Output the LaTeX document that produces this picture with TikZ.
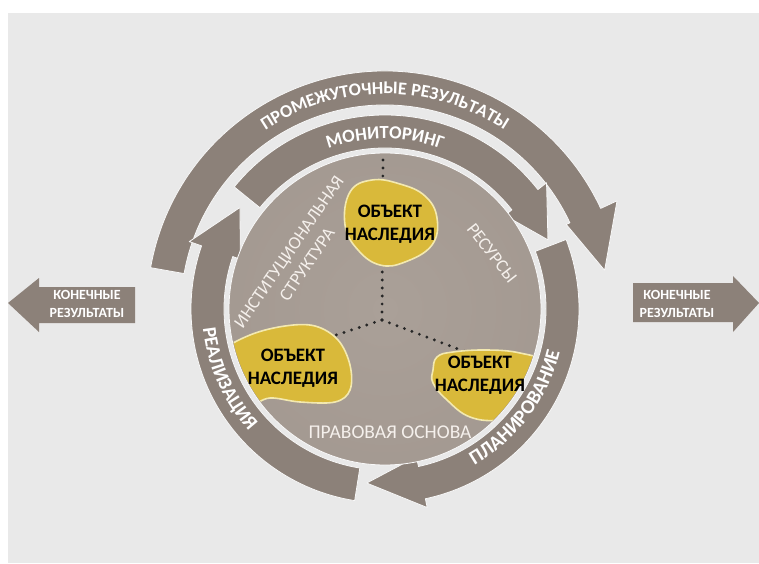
\documentclass[tikz,border=0pt]{standalone}
\usepackage{fontspec}
\setmainfont{Carlito}
\usetikzlibrary{decorations.text}
\definecolor{bg}{HTML}{E9E9E9}
\definecolor{arr}{HTML}{8C8179}
\definecolor{discin}{HTML}{AAA098}
\definecolor{discout}{HTML}{988D85}
\definecolor{blob}{HTML}{D9B93A}
\definecolor{blobedge}{HTML}{F3E9B0}
\definecolor{soft}{HTML}{F5F0EC}
\pgfdeclareradialshading{discshade}{\pgfpoint{0bp}{0bp}}{color(0bp)=(discin); color(30bp)=(discin!60!discout); color(50bp)=(discout)}
\begin{document}
\begin{tikzpicture}[x=1pt,y=1pt,
  arrowband/.style={fill=arr, draw=white!70!bg, line width=0.8pt, line join=round},
  blobshape/.style={fill=blob, draw=blobedge, line width=1.6pt},
  blobtext/.style={font=\fontsize{19}{23}\selectfont\bfseries, text=black, align=center, inner sep=0pt},
  disctext/.style={font=\fontsize{18}{22}\selectfont, text=soft, align=center, inner sep=0pt},
  sidetext/.style={font=\fontsize{14}{18}\selectfont\bfseries, text=white, align=center, inner sep=0pt},
  dotline/.style={line width=3.2pt, line cap=round, dash pattern=on 0pt off 8pt, draw=black!85}]
\useasboundingbox (0,0) rectangle (759,563);
\fill[white] (0,0) rectangle (759,563);
\fill[bg] (8,0) rectangle (759,550);

% side arrows
\fill[arr] (8,260) -- (39,285) -- (39,276) -- (135,276) -- (135,240) -- (39,240) -- (39,231) -- cycle;
\node[sidetext] (leftres) at (87,259) {КОНЕЧНЫЕ\\РЕЗУЛЬТАТЫ};
\fill[arr] (633,280) -- (733,280) -- (733,287) -- (759,260) -- (733,231) -- (733,241) -- (633,241) -- cycle;
\node[sidetext] (rightres) at (677,259) {КОНЕЧНЫЕ\\РЕЗУЛЬТАТЫ};

\coordinate (O) at (385,254);
\begin{scope}[shift={(O)}]
  % outer arrow
  \path[arrowband] (170:238pt) arc[start angle=170,end angle=25,radius=238pt]
     -- (25:256pt) -- (10:223pt) -- (25:200pt) -- (25:204pt)
     arc[start angle=25,end angle=170,radius=204pt] -- cycle;
  % monitoring
  \path[arrowband] (141:194pt) arc[start angle=141,end angle=38,radius=194pt]
     -- (38:205pt) -- (23:177pt) -- (38:152pt) -- (38:161pt)
     arc[start angle=38,end angle=141,radius=161pt] -- cycle;
  % planning
  \path[arrowband] (21:194pt) arc[start angle=21,end angle=-78,radius=194pt]
     -- (-78:203pt) -- (-96:175pt) -- (-78:151pt) -- (-78:161pt)
     arc[start angle=-78,end angle=21,radius=161pt] -- cycle;
  % realization
  \path[arrowband] (-99:194pt) arc[start angle=-99,end angle=-199,radius=194pt]
     -- (-199:207pt) -- (-215:177pt) -- (-199:153pt) -- (-199:161pt)
     arc[start angle=-199,end angle=-99,radius=161pt] -- cycle;
  % disc
  \shade[shading=discshade] (0,0) circle[radius=156pt];
  \draw[white!75!bg, line width=0.8pt] (0,0) circle[radius=156pt];
\end{scope}

% dotted connectors
\coordinate (J) at (382,243);
\coordinate (topend) at (383,405);
\coordinate (leftend) at (330,226);
\coordinate (rightend) at (466,211);
\draw[dotline] (J) -- (topend);
\draw[dotline] (J) -- (leftend);
\draw[dotline] (J) -- (rightend);

% heritage blobs (clipped to the disc)
\begin{scope}
  \clip (O) circle[radius=155pt];
  \draw[blobshape] plot[smooth cycle, tension=0.7] coordinates {(350,371) (372,383) (400,379) (425,367) (437,345) (432,318) (405,301) (380,298) (358,313) (345,338)};
  \draw[blobshape] plot[smooth cycle, tension=0.6] coordinates {(222,211) (250,228) (285,237) (315,237) (338,223) (350,198) (350,173) (335,161) (300,161) (270,165) (250,158) (235,168) (222,188)};
  \draw[blobshape] plot[smooth cycle, tension=0.7] coordinates {(433,193) (437,206) (453,211) (487,213) (520,210) (545,200) (540,176) (525,152) (500,143) (470,146) (447,163) (433,180)};
\end{scope}
\node[blobtext] (obj1) at (390,339) {ОБЪЕКТ\\НАСЛЕДИЯ};
\node[blobtext] (obj2) at (293,195) {ОБЪЕКТ\\НАСЛЕДИЯ};
\node[blobtext] (obj3) at (480,188) {ОБЪЕКТ\\НАСЛЕДИЯ};

% disc labels
\node[disctext, rotate=55.5] (inst) at (298,305) {ИНСТИТУЦИОНАЛЬНАЯ\\СТРУКТУРА};
\node[disctext, rotate=-52] (res) at (492,310) {РЕСУРСЫ};
\node[disctext, font=\fontsize{19.5}{22}\selectfont] (law) at (390,131) {ПРАВОВАЯ ОСНОВА};

% curved labels
\begin{scope}[shift={(O)}]
  \path[decorate, decoration={text along path, text align=center, text color=white,
     text={|\fontsize{18}{20}\selectfont\bfseries|ПРОМЕЖУТОЧНЫЕ РЕЗУЛЬТАТЫ}}]
     (160:215pt) arc[start angle=160,end angle=20,radius=215pt];
  \path[decorate, decoration={text along path, text align=center, text color=white,
     text={|\fontsize{18.5}{20}\selectfont\bfseries|МОНИТОРИНГ}}]
     (150:170pt) arc[start angle=150,end angle=30,radius=170pt];
  \path[decorate, decoration={text along path, text align=center, text color=white,
     text={|\fontsize{19.5}{20}\selectfont\bfseries|РЕАЛИЗАЦИЯ}}]
     (164:183pt) arc[start angle=164,end angle=244,radius=183pt];
  \path[decorate, decoration={text along path, text align=center, text color=white,
     text={|\fontsize{20}{20}\selectfont\bfseries|ПЛАНИРОВАНИЕ}}]
     (-77:180pt) arc[start angle=-77,end angle=3,radius=180pt];
\end{scope}
\end{tikzpicture}
\end{document}
